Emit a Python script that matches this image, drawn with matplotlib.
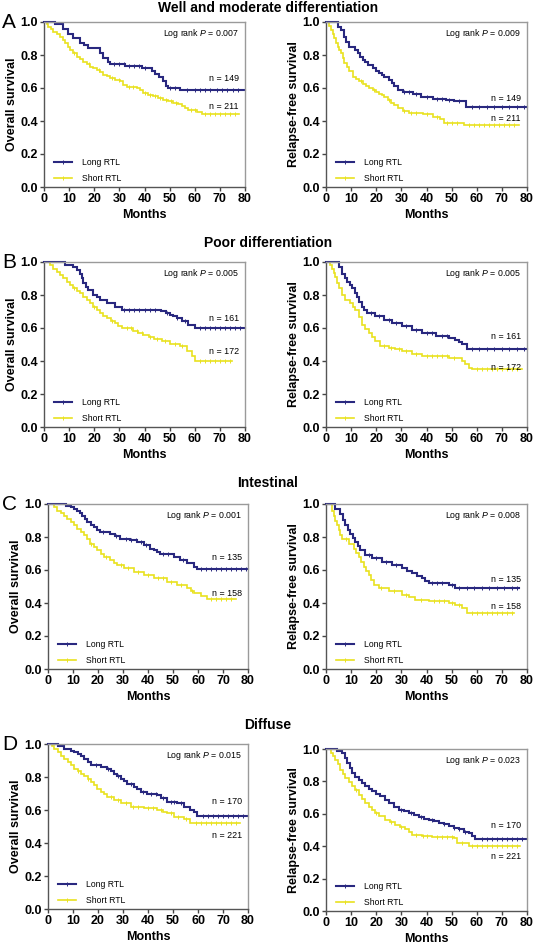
import numpy as np
import matplotlib
matplotlib.use("Agg")
import matplotlib.pyplot as plt
from matplotlib.lines import Line2D

plt.rcParams['font.family'] = ['Liberation Sans', 'DejaVu Sans']
plt.rcParams['mathtext.fontset'] = 'custom'
plt.rcParams['mathtext.rm'] = 'Liberation Sans'
plt.rcParams['mathtext.it'] = 'Liberation Sans:italic'

LONG = '#29287f'
SHORT = '#e9e21f'

# ---- A: well and moderate differentiation ----
a_os_long_t = [0, 4.4, 7.7, 9.7, 11.7, 14.3, 16, 17.6, 22.3, 23.6, 25.6, 26.3, 32.3, 38.9, 42.9, 44.2, 45.9, 47.5, 48.5, 49.5, 54, 80]
a_os_long_s = [1.0, 0.99, 0.96, 0.93, 0.90, 0.874, 0.86, 0.84, 0.81, 0.78, 0.755, 0.745, 0.735, 0.72, 0.70, 0.685, 0.665, 0.64, 0.61, 0.60, 0.588, 0.588]
a_os_long_c = [28, 30, 32, 34, 36, 38, 40, 50, 52, 56.8, 60.1, 62.1, 64.1, 66.1, 68.8, 70.8, 72.8, 75.4, 77.4]
a_os_short_t = [0, 1, 1.7, 2.7, 3.7, 5, 6.4, 7.4, 8.4, 9.4, 10.4, 11.7, 13, 14.3, 15.7, 17, 18.3, 19.7, 21, 22.3, 23.6, 25, 26.3, 28.3, 30.3, 31.6, 32.9, 36.9, 38.2, 39.5, 41.5, 43.5, 45.5, 47.5, 49.5, 51.5, 53.2, 54.8, 56.2, 57.5, 60.8, 62.8, 77.8]
a_os_short_s = [1, 0.985, 0.97, 0.955, 0.94, 0.925, 0.91, 0.89, 0.87, 0.85, 0.83, 0.81, 0.79, 0.775, 0.76, 0.745, 0.73, 0.72, 0.71, 0.695, 0.68, 0.67, 0.66, 0.65, 0.64, 0.62, 0.605, 0.60, 0.585, 0.57, 0.56, 0.55, 0.54, 0.53, 0.52, 0.51, 0.50, 0.49, 0.478, 0.467, 0.455, 0.44, 0.44]
a_os_short_c = [12, 18, 22, 27, 30, 34, 35.5, 40, 42, 44, 46, 48.5, 50.5, 52.5, 58.5, 60, 64, 66, 68, 70, 72, 74, 76]

a_rfs_long_t = [0, 4.6, 6, 7.3, 8, 9.3, 11.7, 12.6, 13.6, 14.6, 15.6, 16.6, 18.6, 20, 21.2, 22.2, 23.2, 25.2, 26.2, 27.2, 28.6, 30.5, 34.5, 37.8, 42.5, 47.8, 51, 55.8, 80]
a_rfs_long_s = [1, 0.97, 0.95, 0.91, 0.88, 0.85, 0.83, 0.81, 0.79, 0.77, 0.755, 0.74, 0.72, 0.705, 0.69, 0.68, 0.667, 0.65, 0.63, 0.615, 0.59, 0.576, 0.565, 0.545, 0.535, 0.525, 0.52, 0.485, 0.485]
a_rfs_long_c = [31, 33, 36, 40, 44, 46, 49, 53, 58, 61, 64, 67, 70, 73, 76, 79]
a_rfs_short_t = [0, 1, 2, 2.7, 3.3, 4, 4.6, 5.3, 6, 6.7, 7.3, 8.3, 9.3, 10.6, 12, 13.3, 14.6, 15.9, 17.3, 18.6, 20, 21.2, 22.2, 23.2, 24.5, 25.9, 27.2, 28.6, 30.5, 33.2, 38.5, 42.5, 45.2, 47.1, 54.4, 55.1, 77]
a_rfs_short_s = [1, 0.975, 0.95, 0.925, 0.90, 0.875, 0.85, 0.83, 0.81, 0.78, 0.75, 0.725, 0.70, 0.667, 0.655, 0.64, 0.625, 0.61, 0.60, 0.59, 0.578, 0.565, 0.555, 0.545, 0.528, 0.51, 0.495, 0.48, 0.46, 0.45, 0.44, 0.425, 0.41, 0.39, 0.385, 0.378, 0.378]
a_rfs_short_c = [14, 19, 25, 31, 34, 36, 40, 44, 48, 50, 52, 57, 59, 61, 63, 65, 67, 69, 71, 73, 75]

# ---- B: poor differentiation ----
b_os_long_t = [0, 8.4, 11.7, 13, 14.3, 15, 15.7, 16.7, 17.7, 19.7, 21, 22.3, 25, 28.3, 30.9, 46.5, 48.5, 50.2, 51.5, 52.8, 54.8, 57.5, 60.1, 80]
b_os_long_s = [1, 0.98, 0.97, 0.95, 0.93, 0.90, 0.87, 0.85, 0.83, 0.80, 0.785, 0.77, 0.75, 0.73, 0.71, 0.70, 0.69, 0.677, 0.67, 0.66, 0.64, 0.62, 0.60, 0.60]
b_os_long_c = [32, 34, 36, 38, 40, 42, 44, 49, 53, 56, 62, 64, 66, 68, 70, 72, 74, 76, 78]
b_os_short_t = [0, 2.5, 3.7, 5, 6.4, 7.7, 9, 10.4, 11.7, 13, 14.3, 15.7, 17, 18.3, 19.7, 21, 22.3, 23.6, 25, 26.6, 28.3, 29.6, 30.9, 35.6, 37.6, 39.6, 41.6, 43.6, 46.9, 50.2, 54.2, 56.8, 58.8, 60.1, 75]
b_os_short_s = [1, 0.98, 0.96, 0.94, 0.92, 0.90, 0.88, 0.86, 0.84, 0.825, 0.81, 0.79, 0.77, 0.75, 0.73, 0.71, 0.69, 0.675, 0.66, 0.645, 0.63, 0.615, 0.60, 0.584, 0.572, 0.56, 0.548, 0.535, 0.52, 0.503, 0.49, 0.46, 0.43, 0.40, 0.40]
b_os_short_c = [12, 20, 27, 33, 34.5, 37, 39, 42, 45, 48, 52, 55, 62, 64, 66, 68, 70, 72, 74]

b_rfs_long_t = [0, 5, 6.4, 7.4, 8.4, 9.4, 10.4, 11.4, 12.3, 13.3, 14.3, 15.3, 16.3, 19.7, 23, 26.3, 30.3, 34.3, 38.2, 43.6, 49, 51.5, 53, 54.2, 56.2, 80]
b_rfs_long_s = [1, 0.97, 0.93, 0.905, 0.88, 0.86, 0.84, 0.815, 0.79, 0.76, 0.73, 0.71, 0.69, 0.67, 0.65, 0.63, 0.61, 0.59, 0.57, 0.55, 0.54, 0.53, 0.515, 0.50, 0.47, 0.47]
b_rfs_long_c = [18, 21, 25, 28, 32, 36, 40, 42, 46, 48, 58, 61, 64, 67, 70, 73, 76, 79]
b_rfs_short_t = [0, 1.5, 2.4, 3, 3.7, 4.3, 5, 6.4, 7.7, 9.7, 10.7, 11.7, 13, 14.3, 15.7, 17, 18.3, 19.7, 21.6, 25, 27.5, 30.3, 34.3, 38.2, 49, 54.2, 55.5, 56.8, 58.1, 78]
b_rfs_short_s = [1, 0.98, 0.96, 0.935, 0.91, 0.875, 0.84, 0.80, 0.77, 0.75, 0.73, 0.71, 0.665, 0.62, 0.595, 0.57, 0.545, 0.52, 0.49, 0.48, 0.47, 0.46, 0.44, 0.43, 0.42, 0.40, 0.38, 0.36, 0.35, 0.35]
b_rfs_short_c = [23, 26, 29, 32, 36, 40, 42, 44, 46, 48, 51, 60, 62, 64, 66, 68, 70, 72, 74, 76]

# ---- C: intestinal ----
c_os_long_t = [0, 7, 9, 10.3, 11.6, 12.6, 13.6, 14.6, 15.6, 17, 18.3, 19.6, 20.9, 24.9, 26.9, 28.9, 32.9, 35.6, 38.3, 40.9, 42.3, 43.6, 44.9, 50.3, 52.9, 55.6, 58.3, 59.6, 80]
c_os_long_s = [1, 0.99, 0.98, 0.97, 0.96, 0.945, 0.93, 0.91, 0.89, 0.875, 0.86, 0.845, 0.83, 0.82, 0.805, 0.79, 0.78, 0.77, 0.75, 0.73, 0.72, 0.71, 0.70, 0.68, 0.66, 0.64, 0.62, 0.605, 0.605]
c_os_long_c = [22, 27, 31, 33, 35, 37, 39, 46, 48, 54, 61, 63, 65, 67, 69, 71, 73, 75, 77, 79]
c_os_short_t = [0, 2.3, 3.6, 5, 6.3, 7.6, 9, 10.3, 11.6, 13, 14.3, 15.6, 16.9, 18.3, 19.6, 21, 22.3, 24.9, 26.3, 27.6, 30.3, 34.3, 38.3, 42.3, 47.6, 51.6, 55.6, 57, 58.3, 61, 63.6, 75]
c_os_short_s = [1, 0.98, 0.96, 0.945, 0.93, 0.91, 0.89, 0.87, 0.85, 0.83, 0.81, 0.785, 0.76, 0.74, 0.72, 0.70, 0.68, 0.66, 0.645, 0.63, 0.61, 0.59, 0.57, 0.55, 0.53, 0.51, 0.49, 0.475, 0.46, 0.44, 0.425, 0.425]
c_os_short_c = [17, 23, 29, 32, 36, 40, 44, 46, 49, 53, 57.5, 65, 67, 69, 71, 73]

c_rfs_long_t = [0, 3.7, 5.7, 6.7, 7.7, 8.7, 9.7, 10.7, 11.7, 12.7, 13.7, 15.7, 18.3, 22.3, 26.3, 30.3, 32.3, 34.3, 36.3, 38.2, 39.5, 40.9, 48.9, 51.5, 77]
c_rfs_long_s = [1, 0.97, 0.94, 0.905, 0.87, 0.845, 0.82, 0.795, 0.77, 0.745, 0.72, 0.69, 0.67, 0.65, 0.63, 0.61, 0.595, 0.58, 0.565, 0.55, 0.535, 0.52, 0.51, 0.49, 0.49]
c_rfs_long_c = [17, 20, 24, 28, 42, 44, 46, 50, 53, 56, 59, 62, 65, 68, 71, 74, 76]
c_rfs_short_t = [0, 2.4, 3, 3.7, 4.4, 5, 5.7, 6.4, 9, 11, 12, 13, 14, 15, 16, 17, 18, 19, 21, 25, 30.3, 33, 35.6, 40.9, 48.9, 51.5, 54.2, 56.2, 75]
c_rfs_short_s = [1, 0.96, 0.93, 0.90, 0.87, 0.84, 0.815, 0.79, 0.76, 0.73, 0.705, 0.68, 0.65, 0.62, 0.595, 0.57, 0.54, 0.51, 0.49, 0.47, 0.45, 0.435, 0.42, 0.41, 0.40, 0.385, 0.37, 0.34, 0.34]
c_rfs_short_c = [8, 22, 27, 32, 38, 43, 45, 47, 50, 53, 58, 60, 62, 64, 66, 68, 70, 72, 74]

# ---- D: diffuse ----
d_os_long_t = [0, 3.8, 6.5, 9.1, 10.5, 11.8, 13.2, 14.5, 15.8, 17.1, 21.1, 23.7, 25, 26.4, 27.7, 29, 30.4, 31.7, 34.4, 35.7, 37, 39.7, 43.7, 45, 47.7, 51.6, 54.3, 56.9, 58.2, 59.6, 80]
d_os_long_s = [1, 0.99, 0.97, 0.96, 0.95, 0.94, 0.925, 0.91, 0.89, 0.87, 0.86, 0.85, 0.835, 0.82, 0.805, 0.79, 0.775, 0.76, 0.74, 0.725, 0.71, 0.70, 0.69, 0.67, 0.65, 0.64, 0.62, 0.60, 0.585, 0.565, 0.565]
d_os_long_c = [19, 24, 28, 33, 38, 41, 43, 46, 49, 50.5, 53, 62, 64, 66, 68, 70, 72, 74, 76, 78]
d_os_short_t = [0, 1.5, 2.5, 3.8, 5.2, 6.5, 7.8, 9.2, 10.5, 11.8, 13.1, 14.5, 15.8, 17.1, 18.4, 19.7, 21.1, 22.4, 23.7, 26.4, 29, 33, 38.3, 43.7, 46, 47.7, 50.3, 54.3, 56.9, 76.9]
d_os_short_s = [1, 0.985, 0.97, 0.95, 0.93, 0.91, 0.89, 0.87, 0.85, 0.835, 0.82, 0.805, 0.79, 0.77, 0.75, 0.73, 0.71, 0.695, 0.68, 0.66, 0.64, 0.62, 0.61, 0.60, 0.59, 0.58, 0.56, 0.545, 0.52, 0.52]
d_os_short_c = [12, 16, 25, 28, 31, 34, 36, 40, 42, 45, 49, 52, 55, 59, 61, 63, 65, 67, 69, 71, 73, 75]

d_rfs_long_t = [0, 4.4, 6.4, 7.4, 8.4, 9.4, 10.4, 11.7, 13, 14.3, 15.7, 17, 18.3, 20, 21.6, 23.3, 25, 27, 29, 31, 33, 35, 36.9, 38.9, 40.9, 42.9, 44.9, 46.9, 48.9, 50.9, 52.8, 54.8, 56.8, 58, 59.5, 80]
d_rfs_long_s = [1, 0.99, 0.976, 0.945, 0.914, 0.88, 0.852, 0.83, 0.811, 0.79, 0.77, 0.755, 0.739, 0.72, 0.707, 0.685, 0.666, 0.645, 0.625, 0.615, 0.604, 0.59, 0.58, 0.57, 0.563, 0.555, 0.546, 0.536, 0.526, 0.515, 0.505, 0.49, 0.48, 0.46, 0.443, 0.443]
d_rfs_long_c = [30, 34, 38, 42, 47, 51, 53, 55.5, 62, 64, 66, 68, 70, 72, 74, 76, 78]
d_rfs_short_t = [0, 1.8, 2.8, 3.7, 4.7, 5.7, 6.7, 7.7, 9, 10.4, 11.7, 13, 14.4, 15.7, 17, 18.3, 19.6, 21, 23.6, 25.6, 27.6, 29.6, 31.6, 33, 34.3, 38.2, 42.2, 50.9, 52.2, 56.8, 77.4]
d_rfs_short_s = [1, 0.976, 0.955, 0.935, 0.905, 0.872, 0.845, 0.82, 0.795, 0.77, 0.745, 0.718, 0.69, 0.666, 0.645, 0.625, 0.605, 0.588, 0.563, 0.548, 0.532, 0.518, 0.505, 0.49, 0.47, 0.46, 0.454, 0.45, 0.419, 0.40, 0.40]
d_rfs_short_c = [12, 20, 26, 30, 36, 38.5, 40, 44, 46, 48, 50, 54, 58, 60, 62, 64, 66, 68, 70, 72, 74, 76]

titles = ['Well and moderate differentiation', 'Poor differentiation', 'Intestinal', 'Diffuse']
letters = ['A', 'B', 'C', 'D']
pvals_os = ['0.007', '0.005', '0.001', '0.015']
pvals_rfs = ['0.009', '0.005', '0.008', '0.023']
n_long = ['149', '161', '135', '170']
n_short = ['211', '172', '158', '221']
# y positions of the n labels (os long, os short, rfs long, rfs short)
n_pos = [(0.655, 0.485, 0.535, 0.415), (0.655, 0.46, 0.55, 0.36),
         (0.676, 0.46, 0.545, 0.378), (0.65, 0.448, 0.526, 0.336)]

W, H = 536, 947
# axes boxes in pixels: (left, top, right, bottom)
boxes_left = [(44, 22, 245, 187), (44, 262, 245, 427), (48, 504, 248, 669), (48, 744, 248, 909)]
boxes_right = [(326, 22, 527, 187), (326, 262, 527, 427), (326, 504, 527, 669), (326, 749, 527, 911)]
title_y = [8, 243, 483, 725]


def km(ax, t, s, c, color, lw):
    t = np.array(t)
    s = np.array(s)
    ax.plot(t, s, drawstyle='steps-post', color=color, lw=lw, clip_on=False, solid_joinstyle='miter')
    idx = np.searchsorted(t, c, side='right') - 1
    ax.plot(c, s[idx], ls='none', marker='|', ms=2.5, mew=0.7, color=color, clip_on=False)


def make_ax(fig, box):
    l, t, r, b = box
    ax = fig.add_axes([l / W, 1 - b / H, (r - l) / W, (b - t) / H])
    ax.set_xlim(0, 80)
    ax.set_ylim(0, 1)
    ax.set_xticks(range(0, 81, 10))
    ax.set_yticks([0, 0.2, 0.4, 0.6, 0.8, 1.0])
    ax.set_yticklabels(['0.0', '0.2', '0.4', '0.6', '0.8', '1.0'])
    for side in ['top', 'right']:
        ax.spines[side].set_color('#9a9a9a')
        ax.spines[side].set_linewidth(1.0)
    for side in ['left', 'bottom']:
        ax.spines[side].set_color('#555555')
        ax.spines[side].set_linewidth(1.0)
    ax.tick_params(direction='out', length=3, width=1, color='#444444', labelsize=9, pad=1.5)
    for lab in ax.get_xticklabels() + ax.get_yticklabels():
        lab.set_fontweight('bold')
    ax.set_xlabel('Months', fontsize=9, fontweight='bold', va='center')
    ax.xaxis.set_label_coords(0.5, -0.17)
    return ax


def decorate(ax, ylabel, pval, nl, ns, yl, ys):
    ax.set_ylabel(ylabel, fontsize=9, fontweight='bold', va='center')
    ax.yaxis.set_label_coords(-0.16, 0.5)
    ax.text(0.97, 0.93, 'Log rank $P$ = ' + pval, transform=ax.transAxes,
            ha='right', va='center', fontsize=6.3)
    ax.text(77.5, yl, 'n = ' + nl, ha='right', va='center', fontsize=6.4)
    ax.text(77.5, ys, 'n = ' + ns, ha='right', va='center', fontsize=6.4)
    handles = [Line2D([], [], color=LONG, lw=1.5, marker='|', ms=2.5, mew=0.7),
               Line2D([], [], color=SHORT, lw=1.2, marker='|', ms=2.5, mew=0.7)]
    ax.legend(handles, ['Long RTL', 'Short RTL'], loc='lower left', bbox_to_anchor=(0.05, 0.025),
              frameon=False, fontsize=6.2, handlelength=2.1, handletextpad=1.1,
              labelspacing=0.75, borderpad=0, borderaxespad=0)


fig = plt.figure(figsize=(W / 100, H / 100), dpi=100)

os_data = [
    (a_os_long_t, a_os_long_s, a_os_long_c, a_os_short_t, a_os_short_s, a_os_short_c),
    (b_os_long_t, b_os_long_s, b_os_long_c, b_os_short_t, b_os_short_s, b_os_short_c),
    (c_os_long_t, c_os_long_s, c_os_long_c, c_os_short_t, c_os_short_s, c_os_short_c),
    (d_os_long_t, d_os_long_s, d_os_long_c, d_os_short_t, d_os_short_s, d_os_short_c),
]
rfs_data = [
    (a_rfs_long_t, a_rfs_long_s, a_rfs_long_c, a_rfs_short_t, a_rfs_short_s, a_rfs_short_c),
    (b_rfs_long_t, b_rfs_long_s, b_rfs_long_c, b_rfs_short_t, b_rfs_short_s, b_rfs_short_c),
    (c_rfs_long_t, c_rfs_long_s, c_rfs_long_c, c_rfs_short_t, c_rfs_short_s, c_rfs_short_c),
    (d_rfs_long_t, d_rfs_long_s, d_rfs_long_c, d_rfs_short_t, d_rfs_short_s, d_rfs_short_c),
]

for i in range(4):
    axl = make_ax(fig, boxes_left[i])
    lt, ls_, lc, st, ss, sc = os_data[i]
    km(axl, st, ss, sc, SHORT, 1.2)
    km(axl, lt, ls_, lc, LONG, 1.5)
    decorate(axl, 'Overall survival', pvals_os[i], n_long[i], n_short[i], n_pos[i][0], n_pos[i][1])

    axr = make_ax(fig, boxes_right[i])
    lt, ls_, lc, st, ss, sc = rfs_data[i]
    km(axr, st, ss, sc, SHORT, 1.2)
    km(axr, lt, ls_, lc, LONG, 1.5)
    decorate(axr, 'Relapse-free survival', pvals_rfs[i], n_long[i], n_short[i], n_pos[i][2], n_pos[i][3])

    fig.text(0.5, 1 - title_y[i] / H, titles[i], ha='center', va='center', fontsize=10, fontweight='bold')
    fig.text(2 / W, 1 - (boxes_left[i][1] + 1) / H, letters[i], ha='left', va='center', fontsize=15)

fig.savefig('out.png', dpi=100)
